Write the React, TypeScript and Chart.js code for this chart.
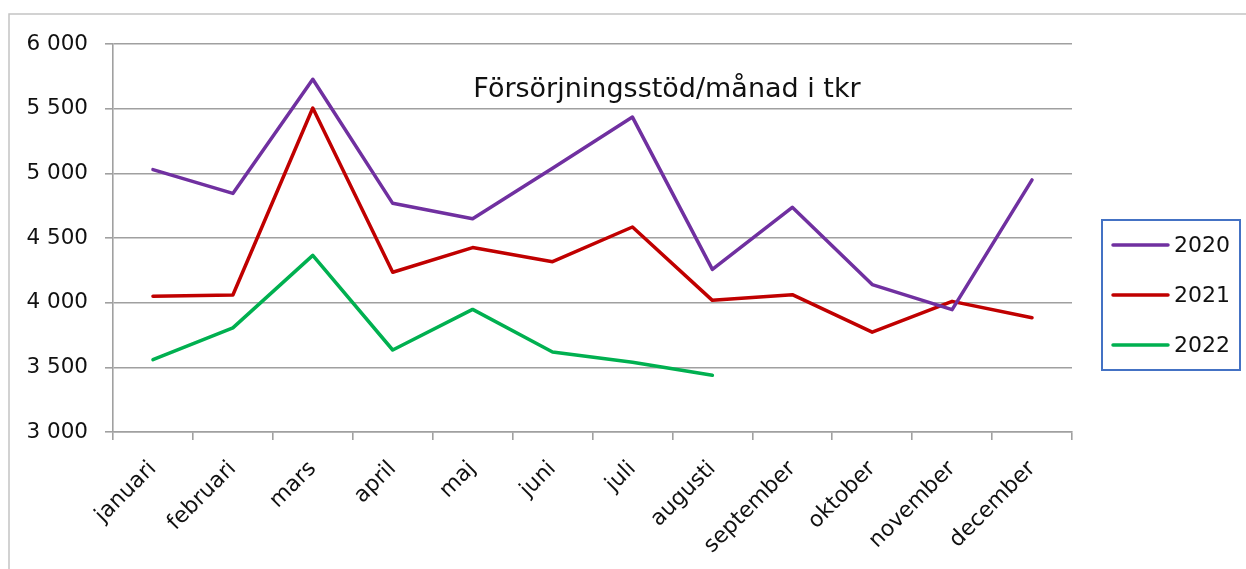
import React, { useEffect, useRef } from "react";
import Chart from "chart.js/auto";

const months = ["januari","februari","mars","april","maj","juni","juli","augusti","september","oktober","november","december"];
const values2020 = [5029, 4845, 5727, 4768, 4649, 5040, 5435, 4257, 4737, 4140, 3946, 4949];
const values2021 = [4049, 4059, 5505, 4235, 4426, 4317, 4585, 4018, 4062, 3772, 4010, 3884];
const values2022 = [3560, 3805, 4366, 3634, 3948, 3619, 3539, 3438];
const seriesLabels = ["2020", "2021", "2022"];
const seriesColors = ["#7030A0", "#C00000", "#00B050"];
const yTicks = [3000, 3500, 4000, 4500, 5000, 5500, 6000];
const titleText = "Försörjningsstöd/månad i tkr";

const FONT = '"DejaVu Sans", sans-serif';
const GRID = "#a0a0a0";

function fmt(v: number) {
  return String(v).replace(/\B(?=(\d{3})+(?!\d))/g, " ");
}

const decorPlugin = {
  id: "decor",
  beforeDraw(chart: any) {
    const ctx = chart.ctx;
    ctx.save();
    ctx.fillStyle = "#ffffff";
    ctx.fillRect(0, 0, chart.width, chart.height);
    ctx.strokeStyle = "#c4c4c4";
    ctx.lineWidth = 1.5;
    ctx.beginPath();
    ctx.moveTo(9, chart.height);
    ctx.lineTo(9, 14);
    ctx.lineTo(chart.width, 14);
    ctx.stroke();
    ctx.restore();
  },
  afterDraw(chart: any) {
    const ctx = chart.ctx;
    const area = chart.chartArea;
    ctx.save();
    ctx.fillStyle = "#111111";
    ctx.font = "27px " + FONT;
    ctx.textAlign = "center";
    ctx.textBaseline = "alphabetic";
    ctx.fillText(titleText, area.left + 554, area.top + 53);
    const bx = area.right + 30;
    const by = 220;
    ctx.strokeStyle = "#4472C4";
    ctx.lineWidth = 2;
    ctx.strokeRect(bx, by, 138, 150);
    ctx.font = "22px " + FONT;
    ctx.textAlign = "left";
    ctx.textBaseline = "middle";
    chart.data.datasets.forEach((ds: any, i: number) => {
      const y = by + 25 + i * 50;
      ctx.strokeStyle = ds.borderColor;
      ctx.lineWidth = 3.5;
      ctx.lineCap = "round";
      ctx.beginPath();
      ctx.moveTo(bx + 11, y);
      ctx.lineTo(bx + 66, y);
      ctx.stroke();
      ctx.fillStyle = "#111111";
      ctx.fillText(ds.label, bx + 72, y + 1);
    });
    ctx.restore();
  },
};

export default function App() {
  const ref = useRef<HTMLCanvasElement>(null);
  useEffect(() => {
    const mk = (data: number[], i: number) => ({
      label: seriesLabels[i],
      data,
      borderColor: seriesColors[i],
      backgroundColor: seriesColors[i],
      borderWidth: 3.5,
      pointRadius: 0,
      tension: 0,
      borderJoinStyle: "round" as const,
      borderCapStyle: "round" as const,
      fill: false,
    });
    const chart = new Chart(ref.current!, {
      type: "line",
      data: {
        labels: months,
        datasets: [mk(values2020, 0), mk(values2021, 1), mk(values2022, 2)],
      },
      options: {
        animation: false,
        responsive: false,
        layout: { padding: { top: 44, right: 174, left: 0, bottom: 0 } },
        plugins: { legend: { display: false }, title: { display: false }, tooltip: { enabled: false } },
        scales: {
          x: {
            type: "category",
            offset: true,
            grid: { offset: true, drawOnChartArea: false, drawTicks: true, tickLength: 8, color: GRID, lineWidth: 1.6 },
            border: { color: GRID, width: 1.6 },
            ticks: { autoSkip: false, maxRotation: 45, minRotation: 45, padding: 16, color: "#111111", font: { family: FONT, size: 22 } },
            afterFit: (scale: any) => { scale.height = 137; },
          },
          y: {
            min: 3000,
            max: 6000,
            afterBuildTicks: (scale: any) => { scale.ticks = yTicks.map((v) => ({ value: v })); },
            grid: { color: GRID, lineWidth: 1.6, tickLength: 8, drawTicks: true },
            border: { color: GRID, width: 1.6 },
            ticks: { padding: 17, color: "#111111", font: { family: FONT, size: 21.5 }, callback: (v: any) => fmt(Number(v)) },
            afterFit: (scale: any) => { scale.width = 113; },
          },
        },
      },
      plugins: [decorPlugin],
    });
    return () => chart.destroy();
  }, []);
  return (
    <div style={{ position: "fixed", left: 0, top: 0, width: 1246, height: 569, background: "#fff" }}>
      <canvas ref={ref} width={1246} height={569} style={{ display: "block" }} />
    </div>
  );
}
